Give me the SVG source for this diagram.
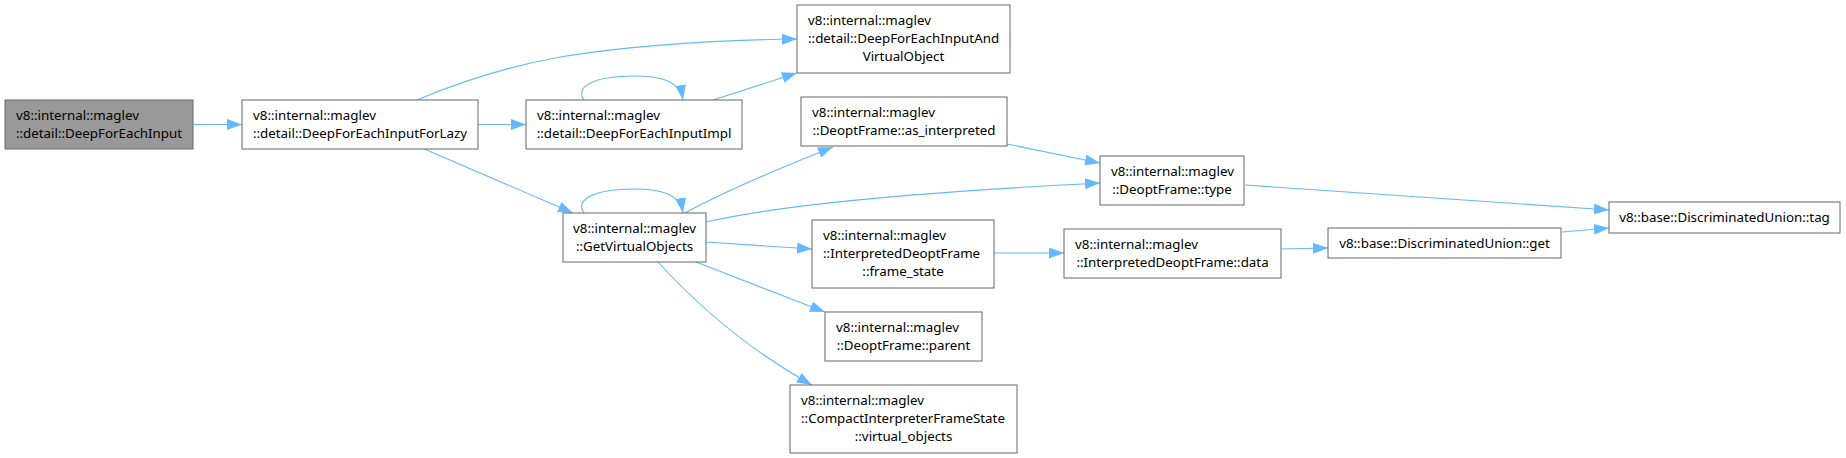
<svg xmlns="http://www.w3.org/2000/svg" width="1846" height="458" viewBox="0 0 1846 458">
<style>
.n rect{fill:#ffffff;stroke:#666666;stroke-width:1}
.n text{font-family:"Noto Sans","DejaVu Sans",sans-serif;font-size:13.33px;fill:#000000}
.n text.c{text-anchor:middle}
.e path{fill:none;stroke:#63b8ff;stroke-width:1.1;marker-end:url(#arr)}
</style>
<defs>
<marker id="arr" markerUnits="userSpaceOnUse" markerWidth="15" markerHeight="11" refX="15" refY="5.5" orient="auto" viewBox="0 0 15 11">
<path d="M0,0 L15,5.5 L0,11 z" fill="#63b8ff"/>
</marker>
</defs>
<rect width="1846" height="458" fill="#ffffff"/>
<g class="e" id="edges">
<path d="M193,124.5 L242,124.5"/>
<path d="M478,124.5 L526,124.5"/>
<path d="M417,100 C450,86 500,68 560,57 C640,44 720,40 797,39"/>
<path d="M584,100 C574,86 596,76 634,76 C664,76 680,82 683,100"/>
<path d="M713,100 L797,73"/>
<path d="M422,148 L573,213"/>
<path d="M584,213 C574,199 596,189 634,189 C664,189 680,195 683,213"/>
<path d="M685,213 C720,194 780,168 833,147"/>
<path d="M706,222 C760,210 850,196 1100,183"/>
<path d="M1007,144 L1100,163"/>
<path d="M706,242 L812,249"/>
<path d="M696,262 L825,312"/>
<path d="M658,262 C690,297 740,345 812,385"/>
<path d="M1245,185 L1609,210"/>
<path d="M994,253 L1064,253"/>
<path d="M1281,249 L1328,248"/>
<path d="M1562,232 L1609,228"/>
</g>
<g class="n" id="n1"><rect x="5" y="100" width="188" height="49" style="fill:#999999"/><text x="16" y="119.5">v8::internal::maglev</text><text class="c" x="99" y="137.5">::detail::DeepForEachInput</text></g>
<g class="n" id="n2"><rect x="242" y="100" width="236" height="49"/><text x="253" y="119.5">v8::internal::maglev</text><text class="c" x="360" y="137.5">::detail::DeepForEachInputForLazy</text></g>
<g class="n" id="n3"><rect x="797" y="5" width="213" height="68"/><text x="808" y="24.5">v8::internal::maglev</text><text x="808" y="42.5">::detail::DeepForEachInputAnd</text><text class="c" x="903.5" y="60.5">VirtualObject</text></g>
<g class="n" id="n4"><rect x="526" y="100" width="216" height="49"/><text x="537" y="119.5">v8::internal::maglev</text><text class="c" x="634" y="137.5">::detail::DeepForEachInputImpl</text></g>
<g class="n" id="n5"><rect x="563" y="213" width="143" height="49"/><text x="573" y="232.5">v8::internal::maglev</text><text class="c" x="634.5" y="250.5">::GetVirtualObjects</text></g>
<g class="n" id="n6"><rect x="801" y="97" width="206" height="49"/><text x="812" y="116.5">v8::internal::maglev</text><text class="c" x="904" y="134.5">::DeoptFrame::as_interpreted</text></g>
<g class="n" id="n7"><rect x="1100" y="156" width="144" height="49"/><text x="1111" y="175.5">v8::internal::maglev</text><text class="c" x="1172" y="193.5">::DeoptFrame::type</text></g>
<g class="n" id="n8"><rect x="1609" y="202" width="231" height="31"/><text class="c" x="1724.5" y="222">v8::base::DiscriminatedUnion::tag</text></g>
<g class="n" id="n9"><rect x="812" y="220" width="182" height="68"/><text x="823" y="239.5">v8::internal::maglev</text><text x="823" y="257.5">::InterpretedDeoptFrame</text><text class="c" x="903" y="275.5">::frame_state</text></g>
<g class="n" id="n10"><rect x="1064" y="229" width="217" height="49"/><text x="1075" y="248.5">v8::internal::maglev</text><text class="c" x="1172.5" y="266.5">::InterpretedDeoptFrame::data</text></g>
<g class="n" id="n11"><rect x="1328" y="228" width="233" height="30"/><text class="c" x="1444.5" y="247.5">v8::base::DiscriminatedUnion::get</text></g>
<g class="n" id="n12"><rect x="825" y="312" width="157" height="49"/><text x="836" y="331.5">v8::internal::maglev</text><text class="c" x="903.5" y="349.5">::DeoptFrame::parent</text></g>
<g class="n" id="n13"><rect x="790" y="385" width="227" height="68"/><text x="801" y="404.5">v8::internal::maglev</text><text x="801" y="422.5">::CompactInterpreterFrameState</text><text class="c" x="903.5" y="440.5">::virtual_objects</text></g>
</svg>
